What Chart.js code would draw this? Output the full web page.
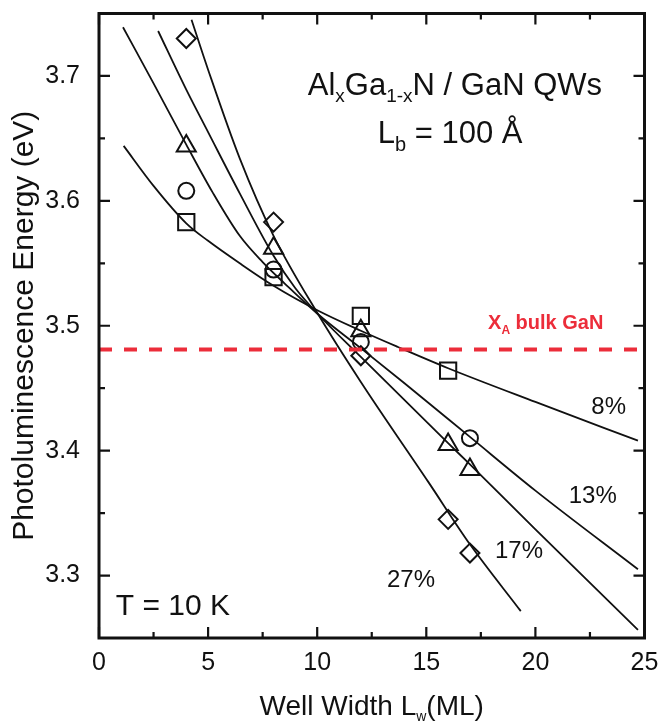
<!DOCTYPE html>
<html>
<head>
<meta charset="utf-8">
<title>PL energy vs well width</title>
<script src="https://cdn.jsdelivr.net/npm/chart.js@4.4.1/dist/chart.umd.min.js"></script>
<style>
  html, body { margin: 0; padding: 0; background: #fff; }
  #wrap { width: 658px; height: 726px; }
</style>
</head>
<body>
<div id="wrap"><canvas id="pl-chart" width="658" height="726"></canvas></div>
<script>
// ---- axes ----
const xTicks = [0, 5, 10, 15, 20, 25];
const xMinorTicks = [2.5, 7.5, 12.5, 17.5, 22.5];
const yTicks = [3.3, 3.4, 3.5, 3.6, 3.7];
const yMinorTicks = [3.35, 3.45, 3.55, 3.65];

// ---- measured points (well width ML, PL energy eV) ----
const sqWidth = [4, 8, 12, 16];
const sqEnergy = [3.583, 3.539, 3.508, 3.464];
const ciWidth = [4, 8, 12, 17];
const ciEnergy = [3.608, 3.545, 3.487, 3.410];
const trWidth = [4, 8, 12, 16, 17];
const trEnergy = [3.644, 3.562, 3.496, 3.405, 3.385];
const diWidth = [4, 8, 12, 16, 17];
const diEnergy = [3.730, 3.583, 3.476, 3.345, 3.318];

// ---- fitted curves ----
const fit8Width = [1.13, 2.5, 4, 5, 6.45, 8, 10.05, 12, 13.7, 16, 20, 24.7];
const fit8Energy = [3.644, 3.612, 3.582, 3.568, 3.550, 3.532, 3.512, 3.496, 3.483, 3.466, 3.439, 3.408];
const fit13Width = [1.1, 2.5, 4, 5.2, 6.45, 7.5, 8.5, 10.05, 12, 14, 17, 20, 24.7];
const fit13Energy = [3.739, 3.694, 3.645, 3.607, 3.572, 3.551, 3.534, 3.509, 3.482, 3.454, 3.411, 3.368, 3.305];
const fit17Width = [2.71, 4, 5, 6.45, 8, 9, 10.05, 12, 16, 17, 20, 24.7];
const fit17Energy = [3.736, 3.689, 3.655, 3.606, 3.556, 3.530, 3.509, 3.475, 3.406, 3.389, 3.337, 3.2565];
const fit27Width = [4.24, 5, 6.45, 8, 10.05, 12, 15.09, 17, 19.33];
const fit27Energy = [3.745, 3.705, 3.634, 3.572, 3.509, 3.455, 3.375, 3.325, 3.2715];

// bulk GaN free exciton line
const bulkWidth = [0, 24.75];
const bulkEnergy = [3.481, 3.481];

const FONT = "'Liberation Sans', Arial, Helvetica, sans-serif";
const INK = '#111';
const RED = '#ec2d3a';

const toPts = (xs, ys) => xs.map((x, i) => ({ x, y: ys[i] }));

function markerSet(xs, ys, style, radius) {
    return {
        type: 'scatter',
        data: toPts(xs, ys),
        pointStyle: style,
        pointRadius: radius,
        pointBorderWidth: 2,
        pointBorderColor: INK,
        pointBackgroundColor: 'rgba(0,0,0,0)',
        showLine: false
    };
}

function fitSet(xs, ys) {
    return {
        type: 'line',
        data: toPts(xs, ys),
        borderColor: INK,
        borderWidth: 1.8,
        pointRadius: 0,
        fill: false,
        cubicInterpolationMode: 'monotone'
    };
}

// draw a row of text runs (for sub/superscripts), aligned on one baseline
function drawRuns(ctx, runs, x, y, align) {
    let total = 0;
    runs.forEach(r => {
        ctx.font = (r.bold ? 'bold ' : '') + r.size + 'px ' + FONT;
        r.w = ctx.measureText(r.t).width;
        total += r.w;
    });
    let cx = align === 'center' ? x - total / 2 : x;
    ctx.textAlign = 'left';
    ctx.textBaseline = 'alphabetic';
    runs.forEach(r => {
        ctx.font = (r.bold ? 'bold ' : '') + r.size + 'px ' + FONT;
        ctx.fillText(r.t, cx, y + (r.dy || 0));
        cx += r.w;
    });
}

const decorations = {
    id: 'decorations',
    afterDraw(chart) {
        const { ctx, chartArea: a, scales: { x, y } } = chart;
        ctx.save();

        // frame
        ctx.strokeStyle = INK;
        ctx.lineWidth = 3;
        ctx.strokeRect(a.left, a.top, a.right - a.left, a.bottom - a.top);

        // inward ticks on all four sides
        ctx.lineWidth = 2.2;
        const xTick = (v, len) => {
            const px = x.getPixelForValue(v);
            ctx.beginPath();
            ctx.moveTo(px, a.bottom); ctx.lineTo(px, a.bottom - len);
            ctx.moveTo(px, a.top); ctx.lineTo(px, a.top + len);
            ctx.stroke();
        };
        const yTick = (v, len) => {
            const py = y.getPixelForValue(v);
            ctx.beginPath();
            ctx.moveTo(a.left, py); ctx.lineTo(a.left + len, py);
            ctx.moveTo(a.right, py); ctx.lineTo(a.right - len, py);
            ctx.stroke();
        };
        xTicks.forEach(v => xTick(v, 11));
        xMinorTicks.forEach(v => xTick(v, 6));
        yTicks.forEach(v => yTick(v, 11));
        yMinorTicks.forEach(v => yTick(v, 6));

        ctx.fillStyle = INK;

        // title block
        drawRuns(ctx, [
            { t: 'Al', size: 31 },
            { t: 'x', size: 19, dy: 7 },
            { t: 'Ga', size: 31 },
            { t: '1-x', size: 19, dy: 7 },
            { t: 'N / GaN QWs', size: 31 }
        ], x.getPixelForValue(16.31), y.getPixelForValue(3.685), 'center');
        drawRuns(ctx, [
            { t: 'L', size: 31 },
            { t: 'b', size: 20, dy: 8 },
            { t: ' = 100 \u00C5', size: 31 }
        ], x.getPixelForValue(16.09), y.getPixelForValue(3.6462), 'center');

        drawRuns(ctx, [{ t: 'T = 10 K', size: 30 }],
            x.getPixelForValue(0.77), y.getPixelForValue(3.2684), 'left');

        // composition labels
        ctx.font = '24px ' + FONT;
        ctx.textAlign = 'center';
        ctx.textBaseline = 'middle';
        ctx.fillText('8%', x.getPixelForValue(23.36), y.getPixelForValue(3.4348));
        ctx.fillText('13%', x.getPixelForValue(22.63), y.getPixelForValue(3.3632));
        ctx.fillText('17%', x.getPixelForValue(19.25), y.getPixelForValue(3.319));
        ctx.fillText('27%', x.getPixelForValue(14.3), y.getPixelForValue(3.296));

        // bulk GaN label
        ctx.fillStyle = RED;
        drawRuns(ctx, [
            { t: 'X', size: 20, bold: true },
            { t: 'A', size: 12, bold: true, dy: 5 },
            { t: ' bulk GaN', size: 20, bold: true }
        ], x.getPixelForValue(17.83), y.getPixelForValue(3.4976), 'left');

        // x axis title with subscript
        ctx.fillStyle = INK;
        drawRuns(ctx, [
            { t: 'Well Width L', size: 28 },
            { t: 'w', size: 14, dy: 6 },
            { t: '(ML)', size: 28 }
        ], (a.left + a.right) / 2, 715, 'center');

        ctx.restore();
    }
};

const ctx = document.getElementById('pl-chart').getContext('2d');
new Chart(ctx, {
    data: {
        datasets: [
            {
                type: 'line',
                data: toPts(bulkWidth, bulkEnergy),
                borderColor: RED,
                borderWidth: 4,
                borderDash: [13, 12],
                pointRadius: 0,
                fill: false
            },
            fitSet(fit8Width, fit8Energy),
            fitSet(fit13Width, fit13Energy),
            fitSet(fit17Width, fit17Energy),
            fitSet(fit27Width, fit27Energy),
            markerSet(sqWidth, sqEnergy, 'rect', 11.5),
            markerSet(ciWidth, ciEnergy, 'circle', 8),
            markerSet(trWidth, trEnergy, 'triangle', 11),
            markerSet(diWidth, diEnergy, 'rectRot', 9.5)
        ]
    },
    options: {
        responsive: false,
        animation: false,
        devicePixelRatio: 1,
        layout: { padding: { top: 6, right: 13, left: 0, bottom: 0 } },
        plugins: {
            legend: { display: false },
            tooltip: { enabled: false }
        },
        scales: {
            x: {
                type: 'linear',
                min: 0,
                max: 25,
                grid: { display: false, drawTicks: false },
                border: { display: false },
                ticks: { color: INK, font: { family: FONT, size: 25 }, padding: 10, maxRotation: 0 },
                afterBuildTicks: s => { s.ticks = xTicks.map(v => ({ value: v })); },
                afterFit: s => { s.height = 88; s.paddingLeft = 0; s.paddingRight = 0; }
            },
            y: {
                type: 'linear',
                min: 3.25,
                max: 3.75,
                grid: { display: false, drawTicks: false },
                border: { display: false },
                ticks: {
                    color: INK,
                    font: { family: FONT, size: 25 },
                    padding: 19,
                    callback: v => v.toFixed(1)
                },
                afterBuildTicks: s => { s.ticks = yTicks.map(v => ({ value: v })); },
                afterFit: s => { s.width = 99; s.paddingTop = 0; s.paddingBottom = 0; },
                title: {
                    display: true,
                    text: 'Photoluminescence Energy (eV)',
                    color: INK,
                    font: { family: FONT, size: 30 },
                    padding: { top: 7, bottom: 0 }
                }
            }
        }
    },
    plugins: [decorations]
});
</script>
</body>
</html>
